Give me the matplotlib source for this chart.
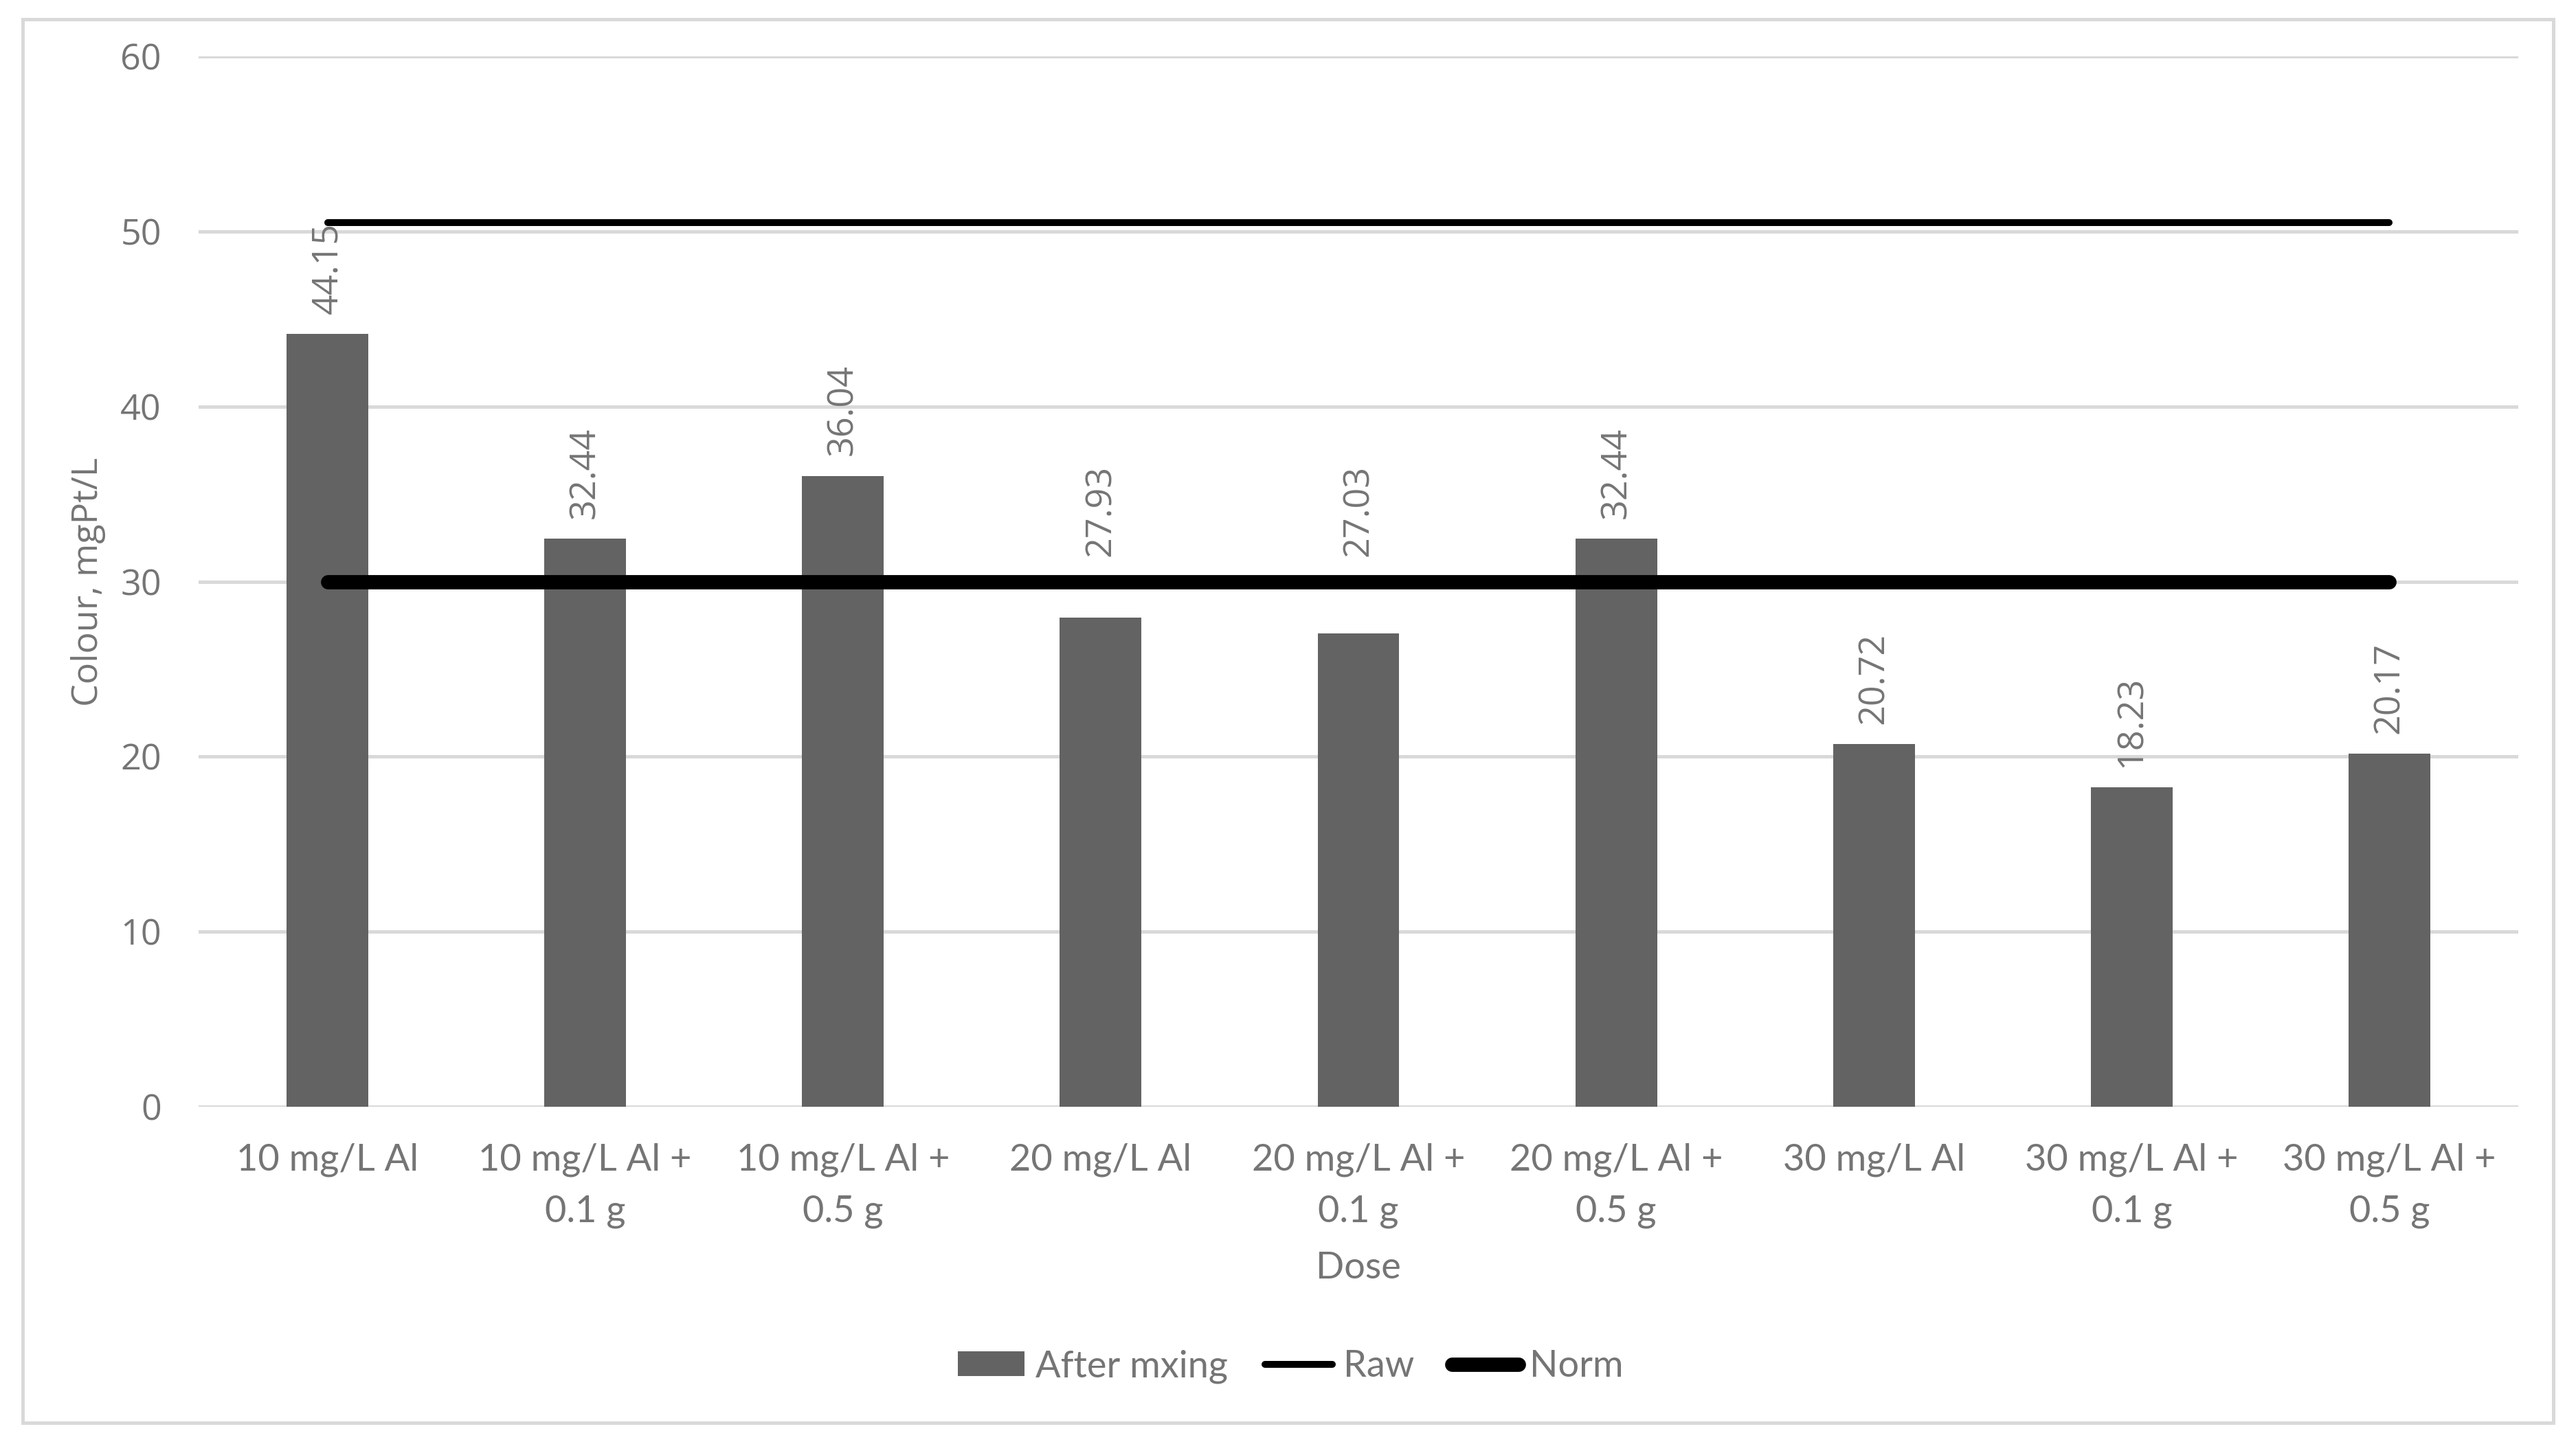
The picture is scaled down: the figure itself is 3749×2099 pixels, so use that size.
import matplotlib.pyplot as plt
from matplotlib.patches import Rectangle

categories = [
    "10 mg/L Al", "10 mg/L Al +\n0.1 g", "10 mg/L Al +\n0.5 g",
    "20 mg/L Al", "20 mg/L Al +\n0.1 g", "20 mg/L Al +\n0.5 g",
    "30 mg/L Al", "30 mg/L Al +\n0.1 g", "30 mg/L Al +\n0.5 g",
]
after_mixing = [44.15, 32.44, 36.04, 27.93, 27.03, 32.44, 20.72, 18.23, 20.17]
raw = [50.5] * 9
norm = [30] * 9
y_ticks = [0, 10, 20, 30, 40, 50, 60]

text_col = "#757575"
grid_col = "#d9d9d9"
bar_col = "#636363"
label_font = "Lato"
num_font = "Open Sans"

fig = plt.figure(figsize=(3749 / 300, 2099 / 300), dpi=300)
ax = fig.add_axes([0.0771, 0.2325, 0.9005, 0.7284])

x = list(range(len(categories)))
bars = ax.bar(x, after_mixing, width=0.317, color=bar_col, label="After mxing", zorder=2)
l_raw, = ax.plot(x, raw, color="black", lw=2.4, solid_capstyle="round", label="Raw", zorder=3)
l_norm, = ax.plot(x, norm, color="black", lw=5.0, solid_capstyle="round", label="Norm", zorder=3)

for xi, v, n in zip(x, after_mixing, norm):
    # labels that would sit on the Norm line get pushed above it
    base = n + 0.3 if v < n < v + 4.5 else v
    ax.annotate(f"{v:.2f}", (xi, base), xytext=(0, 7), textcoords="offset points",
                rotation=90, ha="center", va="bottom", color=text_col,
                fontsize=12.5, family=num_font, zorder=4)

ax.set_xlim(-0.5, len(categories) - 0.5)
ax.set_ylim(0, 60)
ax.set_yticks(y_ticks)
ax.set_yticklabels([str(t) for t in y_ticks], family=num_font, fontsize=12.5, color=text_col)
ax.set_xticks(x)
ax.set_xticklabels(categories, family=label_font, fontsize=13, color=text_col,
                   linespacing=1.65, va="top")
ax.tick_params(axis="both", length=0)
ax.tick_params(axis="y", pad=13)
ax.tick_params(axis="x", pad=12.5)

ax.grid(axis="y", color=grid_col, lw=1.2)
ax.set_axisbelow(True)
for s in ax.spines.values():
    s.set_visible(False)

ax.set_ylabel("Colour, mgPt/L", family=num_font, fontsize=12.5, color=text_col)
ax.yaxis.set_label_coords(-0.040, 0.5)
ax.set_xlabel("Dose", family=label_font, fontsize=13, color=text_col)
ax.xaxis.set_label_coords(0.5, -0.1375)

leg = fig.legend([bars, l_raw, l_norm], ["After mxing", "Raw", "Norm"],
                 loc="center", bbox_to_anchor=(0.501, 0.0524), ncol=3, frameon=False,
                 prop={"family": label_font, "size": 13}, handlelength=1.8,
                 handleheight=0.65, handletextpad=0.3, columnspacing=1.0)
for t in leg.get_texts():
    t.set_color(text_col)

fig.patches.append(Rectangle((0.0088, 0.0133), 0.9824, 0.9733, transform=fig.transFigure,
                             fill=False, edgecolor=grid_col, lw=1.2))

fig.savefig("out.png", dpi=300)
